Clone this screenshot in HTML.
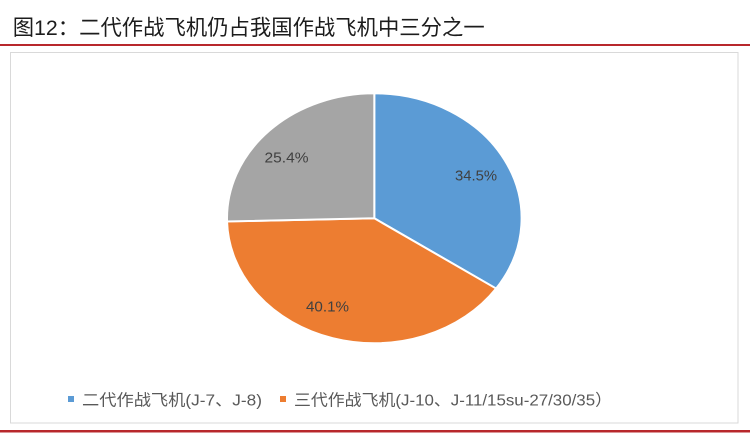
<!DOCTYPE html>
<html>
<head>
<meta charset="utf-8">
<style>
  html, body { margin: 0; padding: 0; background: #ffffff; }
  body { width: 750px; height: 435px; overflow: hidden; }
  svg { display: block; }
</style>
</head>
<body>
<svg width="750" height="435" viewBox="0 0 750 435" xmlns="http://www.w3.org/2000/svg">
  <rect x="0" y="0" width="750" height="435" fill="#ffffff"/>
  <!-- Title -->
  <text x="12.7" y="35" font-family="'Liberation Sans','Noto Sans CJK SC',sans-serif" font-size="21.5" fill="#1c1c1c" textLength="472" lengthAdjust="spacingAndGlyphs">图12：二代作战飞机仍占我国作战飞机中三分之一</text>
  <!-- red rule top -->
  <rect x="0" y="44" width="750" height="2" fill="#b8282c"/>
  <!-- chart frame -->
  <rect x="10.5" y="52.5" width="727.5" height="370.5" fill="#ffffff" stroke="#d9d9d9" stroke-width="1"/>
  <!-- Pie -->
  <g transform="translate(374.3,218.3) scale(147.3,125)">
    <path d="M0,0 L0,-1 A1,1 0 0 1 0.8271,0.5621 Z" fill="#5b9bd5" stroke="#ffffff" stroke-width="2" vector-effect="non-scaling-stroke" stroke-linejoin="round"/>
    <path d="M0,0 L0.8271,0.5621 A1,1 0 0 1 -0.9997,0.0251 Z" fill="#ed7d31" stroke="#ffffff" stroke-width="2" vector-effect="non-scaling-stroke" stroke-linejoin="round"/>
    <path d="M0,0 L-0.9997,0.0251 A1,1 0 0 1 0,-1 Z" fill="#a5a5a5" stroke="#ffffff" stroke-width="2" vector-effect="non-scaling-stroke" stroke-linejoin="round"/>
  </g>
  <!-- data labels -->
  <g font-family="'Liberation Sans','DejaVu Sans',sans-serif" font-size="15" fill="#404040">
    <text x="455" y="180.5" textLength="42" lengthAdjust="spacingAndGlyphs">34.5%</text>
    <text x="264.5" y="162.5" textLength="44" lengthAdjust="spacingAndGlyphs">25.4%</text>
    <text x="306" y="311.5" textLength="43" lengthAdjust="spacingAndGlyphs">40.1%</text>
  </g>
  <!-- Legend -->
  <rect x="68" y="396" width="6" height="6" fill="#5b9bd5"/>
  <text x="82" y="405.5" font-family="'Liberation Sans','Noto Sans CJK SC',sans-serif" font-size="16" fill="#595959" textLength="180" lengthAdjust="spacingAndGlyphs">二代作战飞机(J-7、J-8)</text>
  <rect x="280" y="396" width="6" height="6" fill="#ed7d31"/>
  <text x="294" y="405.5" font-family="'Liberation Sans','Noto Sans CJK SC',sans-serif" font-size="16" fill="#595959" textLength="318" lengthAdjust="spacingAndGlyphs">三代作战飞机(J-10、J-11/15su-27/30/35）</text>
  <!-- red rule bottom -->
  <rect x="0" y="430" width="750" height="2.5" fill="#b8282c"/>
</svg>
</body>
</html>
